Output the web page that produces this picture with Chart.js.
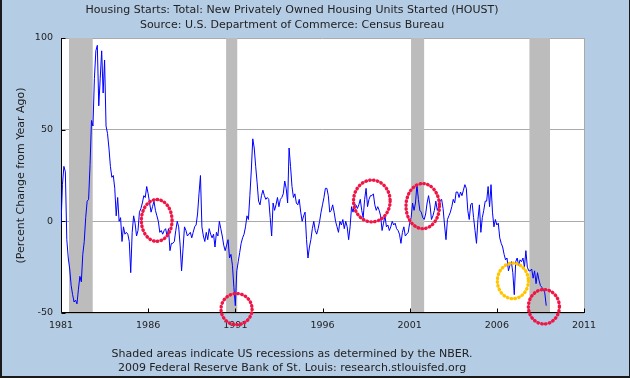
<!DOCTYPE html>
<html><head><meta charset="utf-8">
<script src="https://cdn.jsdelivr.net/npm/chart.js@4.4.1/dist/chart.umd.min.js"></script>
<style>html,body{margin:0;padding:0;background:#b4cce4;}canvas{display:block;}</style>
</head><body>
<canvas id="c" width="630" height="378"></canvas>
<script>
const titleLines = ['Housing Starts: Total: New Privately Owned Housing Units Started (HOUST)', 'Source: U.S. Department of Commerce: Census Bureau'];
const footerLines = ['Shaded areas indicate US recessions as determined by the NBER.', '2009 Federal Reserve Bank of St. Louis: research.stlouisfed.org'];
const yAxisTitle = '(Percent Change from Year Ago)';
const xTickYears = [1981, 1986, 1991, 1996, 2001, 2006, 2011];
const yTickValues = [-50, 0, 50, 100];
const startYear = 1981;

// Monthly percent change from year ago, Jan 1981 onward
const pct1981_1985 = [
  -2, 20, 30, 27, -10, -20, -26, -35, -40, -44, -43, -45,
  -37, -30, -33, -18, -11, 2, 11, 12, 31, 55, 52, 78,
  93, 96, 63, 78, 93, 70, 88, 52, 48, 40, 30, 24,
  25, 18, 3, 13, 0, 2, -11, -3, -7, -6, -7, -11,
  -28, -6, 3, -1, -8, -5, 5, 7, 10, 14, 13, 19];
const pct1986_1990 = [
  15, 10, 5, 8, 11, 6, 3, 0, -6, -5, -7, -5,
  -4, -8, -4, -16, -12, -12, -11, -5, 0, -3, -13, -27,
  -15, -3, -5, -8, -7, -6, -9, -6, -3, -2, 4, 15,
  25, -3, -8, -11, -6, -10, -4, -7, -9, -7, -14, -6,
  -8, 0, -4, -8, -13, -16, -13, -10, -20, -18, -24, -36];
const pct1991_1995 = [
  -46, -27, -22, -17, -12, -9, -7, -3, 3, 1, 14, 28,
  45, 40, 30, 21, 11, 9, 14, 17, 14, 12, 13, 12,
  2, -8, 10, 6, 9, 13, 8, 12, 13, 15, 22, 18,
  10, 40, 30, 19, 13, 15, 10, 9, 12, 5, 0, 3,
  5, -10, -20, -14, -10, -4, 0, -5, -7, -4, 0, 5];
const pct1996_2000 = [
  9, 13, 18, 18, 14, 5, 6, 9, 5, 0, -3, -6,
  0, -2, 1, -4, 0, -3, -10, -3, 8, 5, 9, 9,
  7, 9, 12, 6, 2, 12, 18, 8, 12, 14, 14, 15,
  9, 6, 8, 6, 3, -5, -1, 3, -3, -2, -5, -3,
  0, -2, -1, -4, -5, -7, -12, -6, -3, -8, -7, -6];
const pct2001_2005 = [
  -1, 2, 10, 6, 10, 20, 12, 6, 5, 2, 1, 4,
  10, 14, 9, 1, 3, 6, 11, 6, 8, 11, 12, 7,
  -2, -10, 1, 3, 5, 8, 12, 10, 16, 16, 13, 16,
  14, 17, 20, 18, 6, 1, 9, 10, 2, -5, -12, 1,
  9, -6, 2, 6, 11, 11, 19, 8, 20, 5, -3, 1];
const pct2006_2008 = [
  -2, -1, -9, -12, -14, -18, -21, -20, -27, -24, -22, -28,
  -40, -22, -20, -24, -21, -22, -20, -25, -16, -25, -27, -27,
  -26, -31, -27, -34, -28, -32, -35, -36, -37, -39, -46];

const recessionStart = [1981.46, 1990.47, 2001.08, 2007.87];
const recessionEnd   = [1982.82, 1991.11, 2001.83, 2009.05];

// hand-drawn highlight circles (centre year, centre value, radius in years, radius in value units)
const markYears  = [1986.49, 1991.07, 1998.83, 2001.75, 2006.92, 2008.70];
const markValues = [0.5, -47.9, 11.1, 8.3, -32.5, -46.6];
const markRx     = [0.88, 0.89, 1.05, 0.96, 0.89, 0.89];
const markRy     = [11.4, 8.5, 11.4, 12.3, 9.7, 9.4];
const markColors = ['#ef1646', '#ef1646', '#ef1646', '#ef1646', '#ffc600', '#ef1646'];

const allValues = [].concat(pct1981_1985, pct1986_1990, pct1991_1995, pct1996_2000, pct2001_2005, pct2006_2008);
const points = allValues.map((v, i) => ({x: startYear + i / 12, y: v}));

Chart.defaults.font.family = "'DejaVu Sans', sans-serif";

const frame = {
  id: 'frame',
  beforeDraw(chart) {
    const {ctx, chartArea: a, width, height} = chart;
    ctx.save();
    ctx.fillStyle = '#b4cce4';
    ctx.fillRect(0, 0, width, height);
    ctx.fillStyle = '#ffffff';
    ctx.fillRect(a.left, a.top, a.right - a.left, a.bottom - a.top);
    ctx.restore();
  },
  beforeDatasetsDraw(chart) {
    const {ctx, chartArea: a, scales: {x, y}} = chart;
    ctx.save();
    ctx.fillStyle = '#bcbcbc';
    recessionStart.forEach((s, i) => {
      const x0 = x.getPixelForValue(s), x1 = x.getPixelForValue(recessionEnd[i]);
      ctx.fillRect(x0, a.top, x1 - x0, a.bottom - a.top);
    });
    ctx.lineWidth = 1;
    ctx.strokeStyle = '#aaaaaa';
    ctx.beginPath();
    ctx.moveTo(Math.round(a.right) + 0.5, a.top);
    ctx.lineTo(Math.round(a.right) + 0.5, a.bottom);
    ctx.stroke();
    ctx.strokeStyle = '#000000';
    const L = Math.round(a.left) + 0.5, B = Math.round(a.bottom) - 0.5;
    ctx.beginPath();
    ctx.moveTo(L, a.top);
    ctx.lineTo(L, B);
    ctx.lineTo(Math.round(a.right) + 1, B);
    xTickYears.forEach(v => {
      const px = Math.round(x.getPixelForValue(v)) + 0.5;
      ctx.moveTo(px, B);
      ctx.lineTo(px, B - 4);
    });
    yTickValues.forEach(v => {
      const py = Math.round(y.getPixelForValue(v)) + 0.5;
      ctx.moveTo(L, py);
      ctx.lineTo(L + 4, py);
    });
    ctx.stroke();
    ctx.restore();
  },
  afterDraw(chart) {
    const {ctx, width, height, scales: {x, y}} = chart;
    ctx.save();
    ctx.lineWidth = 3.4;
    ctx.lineCap = 'round';
    ctx.setLineDash([0.5, 3.4]);
    markYears.forEach((yr, i) => {
      const cx = x.getPixelForValue(yr), cy = y.getPixelForValue(markValues[i]);
      const rx = x.getPixelForValue(yr + markRx[i]) - cx;
      const ry = cy - y.getPixelForValue(markValues[i] + markRy[i]);
      ctx.strokeStyle = markColors[i];
      ctx.beginPath();
      ctx.ellipse(cx, cy, rx, ry, 0, 0, Math.PI * 2);
      ctx.stroke();
    });
    ctx.setLineDash([]);
    ctx.fillStyle = '#1a1a1a';
    ctx.fillRect(0, 0, 2, height);
    ctx.fillRect(width - 1, 0, 1, height);
    ctx.fillRect(0, height - 2, width, 2);
    ctx.restore();
  }
};

new Chart(document.getElementById('c'), {
  type: 'line',
  data: {datasets: [{data: points, borderColor: '#0000ff', borderWidth: 1, pointRadius: 0, tension: 0, fill: false}]},
  options: {
    responsive: false, animation: false, devicePixelRatio: 1,
    layout: {padding: {left: 0, right: 46, top: 0, bottom: 0}},
    plugins: {
      legend: {display: false}, tooltip: {enabled: false},
      title: {display: true, text: titleLines, color: '#222', font: {size: 11, weight: 'normal', lineHeight: 15 / 11}, padding: {top: 3, bottom: 5}},
      subtitle: {display: true, position: 'bottom', text: footerLines, color: '#222', font: {size: 11, weight: 'normal', lineHeight: 14 / 11}, padding: {top: 0, bottom: 3}}
    },
    scales: {
      x: {
        type: 'linear', min: 1981, max: 2011,
        grid: {display: false, drawTicks: false}, border: {display: false},
        afterBuildTicks: s => { s.ticks = xTickYears.map(v => ({value: v})); },
        ticks: {color: '#222', font: {size: 9.5}, padding: 7, maxRotation: 0, autoSkip: false, callback: v => String(v)},
        afterFit: s => { s.height = 34; }
      },
      y: {
        min: -50, max: 100,
        afterBuildTicks: s => { s.ticks = yTickValues.map(v => ({value: v})); },
        grid: {color: '#aaaaaa', drawTicks: false}, border: {display: false},
        ticks: {color: '#222', font: {size: 9.5}, padding: 8},
        title: {display: true, text: yAxisTitle, color: '#222', font: {size: 11}, padding: {top: 15, bottom: 0}},
        afterFit: s => { s.width = 61; }
      }
    }
  },
  plugins: [frame]
});
</script>
</body></html>
